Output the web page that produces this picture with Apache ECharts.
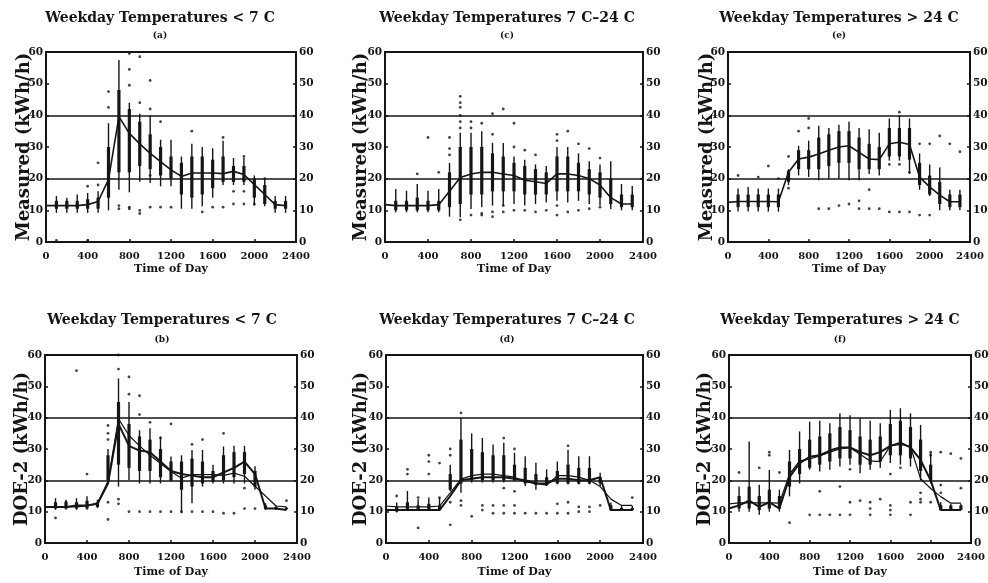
<!DOCTYPE html>
<html><head><meta charset="utf-8">
<script src="https://cdn.jsdelivr.net/npm/echarts@6/dist/echarts.min.js"></script>
<style>html,body{margin:0;padding:0;background:#fff}#c{width:988px;height:583px}</style>
</head><body><div id="c"></div>
<script>
// ---------- data ----------
const barHours = [100,200,300,400,500,600,700,800,900,1000,1100,1200,1300,1400,1500,1600,1700,1800,1900,2000,2100,2200,2300];
const lineHours = [0,100,200,300,400,500,600,700,800,900,1000,1100,1200,1300,1400,1500,1600,1700,1800,1900,2000,2100,2200,2300];
const xMin = 0, xMax = 2400, xStep = 400;
const yMin = 0, yMax = 60, yStep = 10, gridStep = 20;

const panelTitles = ['Weekday Temperatures < 7 C','Weekday Temperatures 7 C\u201324 C','Weekday Temperatures > 24 C',
                     'Weekday Temperatures < 7 C','Weekday Temperatures 7 C\u201324 C','Weekday Temperatures > 24 C'];
const panelTags = ['(a)','(c)','(e)','(b)','(d)','(f)'];
const yNames = ['Measured (kWh/h)','Measured (kWh/h)','Measured (kWh/h)','DOE-2 (kWh/h)','DOE-2 (kWh/h)','DOE-2 (kWh/h)'];
const xName = 'Time of Day';

// measured hourly means (line)
const meanLow = [11.5,11.5,11.5,11.5,11.8,12.8,19.7,39.6,34.3,31,28,25.4,22.8,20.7,21.8,21.8,21.8,21.6,22.3,21.3,18.1,15,11.8,11.5];
const meanMid = [11.8,11.5,11.5,11.5,11.5,11.8,16,20.4,21.5,22,22,21.5,21,19.5,19,18.5,21.5,21.5,21,20,18,14,12,12];
const meanHigh = [12.5,12.8,12.8,12.8,12.8,12.7,22,26.2,26.8,27.8,29,30,30.4,28.3,26.2,26,31,31.5,30.8,20.5,17.4,14.8,12.7,12.7];
// DOE-2 hourly means (line)
const doeLow = [11.5,11.5,11.5,12,12,12.5,19,38,31,29.5,29,26,23,22,21.5,21,21,22.5,24,26,22,11,11,10.5];
const doeMid = [10.5,10.5,10.5,10.5,10.5,10.5,15,20,20.5,21,21,21,20.5,20,19,19,20.5,20.5,20,20,21,10.5,10.5,10.5];
const doeHigh = [11,12,13.5,11.5,13,11,21,25.5,27.5,28,29.5,30.5,30.5,29,28,29,31,32,30.5,26.5,20,10.5,10.5,10.5];

// ranges per hour: [low, denseLow, denseHigh, high]
const rangeA = [[9.2,10.5,13,14.5],[9.2,10.5,13,14],[9.2,10.5,13,15],[9.2,10.5,13.5,15.5],[9.2,10.5,14,16],[10,14,30,37.5],[16.5,22,48,57.5],[15.7,22,42,44],[19,24,38,40.5],[18.6,23,34,40],[17.6,21,30,32.3],[17.6,20,27,32.3],[10.5,15,25,27],[10.5,14,27,31],[11.3,15,27,30],[14,17,26,29.6],[18,19,27,32],[18,19,24,26.5],[18,19,24,26.5],[11.5,14,20,21],[11.3,12,18,19.7],[9.2,10.5,13,14.5],[9.2,10.5,13,14.5]];
const rangeC = [[9.4,10,13,16.7],[9.4,10,13,16.2],[9.4,10,14,18.3],[9.4,10,13,16.2],[9.4,10,13,16.7],[8,11,22,25],[7.8,12,30,34.5],[10.4,15,30,34.5],[11,15,30,35],[11.5,16,28,31.3],[11.5,16,27,31.3],[12,16,25,27],[11.5,15,24,26],[12,15,23,24.5],[12.5,15,22,24],[13,16,27,30],[12.5,16,27,30],[13,16,25,28],[12,15,23,25.5],[11.5,14,22,24.5],[10.4,12,20,25.5],[10,11,15,18.3],[10,11,15,17.7]];
const rangeE = [[9.6,11,15,16.9],[9.6,11,15,17.4],[9.6,11,15,16.9],[9.6,11,15,16.9],[9.6,11,15,16.9],[18,19,22.5,23],[21,23,29,30.4],[20.5,23,29,32],[19.5,23,33,36.7],[20,24,34,36],[20,25,35,37],[19.5,25,35,38],[19.5,23,33,36],[21.5,23,31,35.6],[21,23,30,34.5],[25.7,27,36,39],[25.7,27,36,40],[21.5,26,36,39],[16.5,18,25,28],[14.5,15,21,24.5],[10,12,19,23.5],[10,11,15,16.5],[10,11,15,16.5]];
const rangeB = [[10.6,11,13,14.3],[10.6,11,13,13.8],[10.6,11,13,14.3],[10.6,11,13.5,14.9],[11.1,11.5,13,13.8],[19.6,20,28,30],[18,25,45,52.5],[20,24,38,45],[19,23,34,36],[19,23,33,36.6],[19,21,30,34],[19.6,20,26,27.6],[9.5,17,26,28],[12.7,18,27,29.7],[18,19,26,29.7],[19,19.5,23,25],[19,20,28,30.8],[19,21,29,31],[19,22,29,31],[17,18,23,24.5],[10.6,10.8,12,12.7],[10.6,10.8,11.5,12],[10.6,10.8,11.2,11.5]];
const rangeD = [[9.7,10,11.5,12.9],[10.3,10.5,13,16.6],[10.3,10.5,12,14],[10.3,10.5,12.5,14.5],[10.3,10.5,12,14.5],[16.6,17,22,25],[16,19,33,40],[19.3,20,30,35],[19.3,20,29,33.5],[19.3,20,28,31.4],[19.3,20,28,32],[19.8,20,25,28.8],[18.2,19,24,27.7],[17,18.5,22,25.6],[18.2,18.5,21,23.5],[18.7,19,23,26],[18.7,19,25,29.8],[18.7,19,24,27.7],[18.7,19,24,27.7],[18.2,19,21,22.4],[10.3,10.5,12,12.9],[10.3,10.5,11.2,11.8],[10.3,10.5,11.2,11.8]];
const rangeF = [[10,11,15,18],[10,11,18,32.4],[9,10.5,15,18.6],[10,11,17,23.3],[10,11,15,17],[14.9,18,26,29.7],[19,22,30,35.6],[23.4,24,33,38.7],[22.8,25,34,39],[23.4,26,35,38.2],[24.4,27,37,41.4],[25,27,36,40.8],[22.3,25,34,39.8],[23.4,25,33,39],[24,26,34,38.2],[25.5,28,38,42.5],[25,28,39,43],[24.4,27,37,41.4],[20,23,33,37.7],[19,20,25,28.7],[10.5,10.5,12,13],[10.5,10.5,12,12.5],[10.5,10.5,12,12.5]];

// isolated points [hour, kWh/h]
const outA = [[100,0.5],[400,0.5],[400,17.6],[500,25],[500,18],[600,47.5],[600,42.5],[700,11.5],[700,10.5],[800,59.5],[800,54.5],[800,49.5],[800,11],[800,10.5],[900,58.5],[900,44],[900,10],[900,9],[1000,51],[1000,42],[1000,21],[1000,11],[1100,38],[1100,11],[1200,11],[1400,35],[1500,9.5],[1600,11],[1700,33],[1700,11],[1800,16],[1800,12],[1900,27],[1900,16],[1900,12],[2000,12],[2100,20]];
const outC = [[300,21.5],[400,33],[500,22],[600,33],[600,29.5],[600,27.5],[700,46],[700,44],[700,42.5],[700,40],[700,38],[700,36],[700,7],[800,38],[800,36],[800,8.5],[900,37.5],[900,9],[900,8.5],[1000,40.5],[1000,34],[1000,9.5],[1000,8],[1100,42],[1100,11.5],[1100,9.5],[1200,37.5],[1200,30],[1200,10],[1300,29],[1300,10],[1400,27.5],[1400,9.5],[1500,10],[1600,34],[1600,32],[1600,11.5],[1600,8.5],[1700,35],[1700,9.5],[1800,31],[1800,10],[1900,29.5],[1900,10.5],[2000,26.5],[2000,11]];
const outE = [[100,21],[300,20.5],[400,24],[500,20],[600,27],[600,17],[700,35],[800,39],[800,36],[900,10.5],[1000,10.5],[1100,11.5],[1200,12],[1300,13],[1300,10.5],[1400,16.5],[1400,10.5],[1500,10.5],[1600,24.5],[1600,9.5],[1700,41],[1700,24.5],[1700,9.5],[1800,9.5],[1800,22],[1900,31],[1900,8.5],[2000,31],[2000,8.5],[2100,33.5],[2200,31],[2300,28.5]];
const outB = [[100,8],[200,13],[300,55],[400,22],[600,37.5],[600,35],[600,33],[600,13],[600,7.5],[700,60],[700,55.5],[700,14],[700,12.5],[800,53],[800,47.5],[800,10],[900,47],[900,41],[900,10],[1000,38.5],[1000,10],[1100,33.5],[1100,10],[1200,38],[1200,10],[1300,10],[1400,31.5],[1400,10],[1500,33],[1500,10],[1600,10],[1700,35],[1700,9.5],[1800,9.5],[1900,17.5],[1900,11],[2000,11],[2200,11],[2300,13.5]];
const outD = [[100,15],[200,23.5],[200,22],[300,14.5],[300,4.8],[400,28],[400,26],[400,22],[500,25.5],[500,14.5],[600,30],[600,28],[600,13],[600,5.8],[700,41.5],[700,13.5],[700,12],[800,8.5],[900,12],[900,10.5],[1000,12],[1000,9.5],[1100,33.5],[1100,17.5],[1100,12],[1100,9.5],[1200,30],[1200,16.5],[1200,12],[1200,9.5],[1300,9.5],[1400,9.5],[1500,9.5],[1600,12.5],[1600,9.5],[1700,31],[1700,13],[1700,9.5],[1800,11.5],[1800,10],[1900,11.5],[1900,10],[2000,12],[2300,14.5]];
const outF = [[100,22.5],[300,24],[400,29],[400,28],[500,22.5],[600,6.5],[800,9],[900,16.5],[900,9],[1000,9],[1100,18],[1100,9],[1200,23.5],[1200,13],[1200,9],[1300,13.5],[1400,13],[1400,11],[1400,9],[1500,14],[1600,22],[1600,12],[1600,10.5],[1600,9],[1700,24],[1800,13],[1800,9],[1900,16],[1900,14],[1900,13],[2000,29],[2000,28],[2000,13],[2100,29],[2100,18.5],[2100,16],[2200,28.5],[2200,11],[2300,27],[2300,17.5]];

// ---------- layout ----------
const panels = [
  {range:rangeA, out:outA, mean:meanLow, doe:null},
  {range:rangeC, out:outC, mean:meanMid, doe:null},
  {range:rangeE, out:outE, mean:meanHigh, doe:null},
  {range:rangeB, out:outB, mean:meanLow, doe:doeLow},
  {range:rangeD, out:outD, mean:meanMid, doe:doeMid},
  {range:rangeF, out:outF, mean:meanHigh, doe:doeHigh}
];
const gridBoxes = [
  {left:46, top:52, width:250, height:190},
  {left:385, top:52, width:258, height:190},
  {left:728, top:52, width:242, height:190},
  {left:45, top:355, width:252, height:188},
  {left:386, top:355, width:257, height:188},
  {left:729, top:355, width:242, height:188}
];
const yNameGaps = [13,15,12,14,16,15];
const xNameGaps = [22,22,22,24,24,24];
const titleCX = [160,507,839,162,507,840];
const titleY = [18,18,18,320,320,320];
const tagY = [36,36,36,340,340,340];

const F = '"DejaVu Serif", serif';
const INK = '#151515';

function renderRange(params, api) {
  const x = api.value(0);
  const p0 = api.coord([x, api.value(1)]);
  const c0 = api.coord([x, api.value(2)]);
  const c1 = api.coord([x, api.value(3)]);
  const p1 = api.coord([x, api.value(4)]);
  return {type:'group', children:[
    {type:'line', shape:{x1:p0[0],y1:p0[1],x2:p1[0],y2:p1[1]}, style:{stroke:INK, lineWidth:1.4}},
    {type:'line', shape:{x1:c0[0],y1:c0[1],x2:c1[0],y2:c1[1]}, style:{stroke:INK, lineWidth:3.2}}
  ]};
}

const grid = [], xAxis = [], yAxis = [], series = [], graphic = [];
const labelStyle = {color:INK, fontFamily:F, fontWeight:'bold', fontSize:10};
const plain = v => String(v);

panels.forEach((p, i) => {
  grid.push(Object.assign({show:true, borderColor:INK, borderWidth:2, outerBoundsMode:'none', containLabel:false}, gridBoxes[i]));
  xAxis.push({gridIndex:i, type:'value', min:xMin, max:xMax, interval:xStep,
    axisLine:{show:true, lineStyle:{color:INK, width:2}},
    axisTick:{show:true, inside:true, length:3, lineStyle:{color:INK, width:1.5}},
    axisLabel:Object.assign({margin:9, showMinLabel:true, showMaxLabel:true, formatter:plain}, labelStyle),
    splitLine:{show:false},
    name:xName, nameLocation:'middle', nameGap:xNameGaps[i], nameMoveOverlap:false,
    nameTextStyle:{color:INK, fontFamily:F, fontWeight:'bold', fontSize:11}});
  yAxis.push({gridIndex:i, type:'value', min:yMin, max:yMax, interval:yStep, position:'left',
    axisLine:{show:true, lineStyle:{color:INK, width:2}},
    axisTick:{show:true, inside:true, length:3, lineStyle:{color:INK, width:1.5}},
    axisLabel:Object.assign({margin:3, formatter:plain}, labelStyle, {fontSize:10.5}),
    splitLine:{show:false},
    name:yNames[i], nameLocation:'middle', nameGap:yNameGaps[i], nameRotate:90, nameMoveOverlap:false,
    nameTextStyle:{color:INK, fontFamily:F, fontWeight:'bold', fontSize:18}});
  yAxis.push({gridIndex:i, type:'value', min:yMin, max:yMax, interval:yStep, position:'right',
    axisLine:{show:true, lineStyle:{color:INK, width:2}},
    axisTick:{show:true, inside:true, length:3, lineStyle:{color:INK, width:1.5}},
    axisLabel:Object.assign({margin:3, formatter:plain}, labelStyle, {fontSize:10.5}),
    splitLine:{show:false}});
  yAxis.push({gridIndex:i, type:'value', min:yMin, max:yMax, interval:gridStep, position:'right',
    axisLine:{show:false}, axisTick:{show:false}, axisLabel:{show:false},
    splitLine:{show:true, lineStyle:{color:INK, width:1.5}}});

  series.push({type:'custom', xAxisIndex:i, yAxisIndex:3*i, renderItem:renderRange,
    encode:{x:0, y:[1,2,3,4]}, z:3,
    data:barHours.map((h,k) => [h].concat(p.range[k]))});
  series.push({type:'scatter', xAxisIndex:i, yAxisIndex:3*i, symbol:'circle', symbolSize:2.8,
    itemStyle:{color:INK}, z:4, data:p.out});
  series.push({type:'line', xAxisIndex:i, yAxisIndex:3*i, showSymbol:false, z:5,
    lineStyle:{color:INK, width:p.doe ? 1.2 : 1.6},
    data:lineHours.map((h,k) => [h, p.mean[k]])});
  if (p.doe) {
    series.push({type:'line', xAxisIndex:i, yAxisIndex:3*i, showSymbol:false, z:6,
      lineStyle:{color:INK, width:2},
      data:lineHours.map((h,k) => [h, p.doe[k]])});
  }
  graphic.push({type:'text', x:titleCX[i], y:titleY[i], style:{text:panelTitles[i], fill:INK,
    font:'bold 14px ' + F, align:'center', verticalAlign:'middle'}});
  graphic.push({type:'text', x:titleCX[i], y:tagY[i], style:{text:panelTags[i], fill:INK,
    font:'bold 9px ' + F, align:'center', verticalAlign:'middle'}});
});

const chart = echarts.init(document.getElementById('c'), null, {renderer:'canvas'});
chart.setOption({backgroundColor:'#fff', animation:false, grid, xAxis, yAxis, series, graphic});
</script></body></html>
